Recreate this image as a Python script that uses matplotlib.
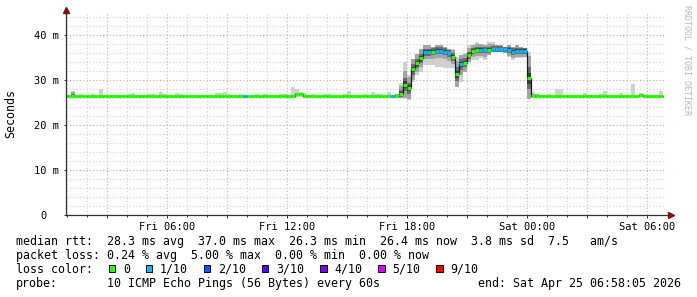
import numpy as np
import matplotlib
matplotlib.use("Agg")
import matplotlib.pyplot as plt
from matplotlib.patches import Rectangle

plt.rcParams['font.family'] = ['DejaVu Sans Mono']

# 12 minute steps, starting Fri 01:00 (hours counted from Fri 00:00)
start_hour = 1.0
step_hours = 0.2

# median rtt per step (ms)
median = [
    26.4, 26.4, 26.4, 26.4, 26.4, 26.4, 26.4, 26.4, 26.4, 26.4,
    26.4, 26.4, 26.4, 26.4, 26.4, 26.4, 26.4, 26.4, 26.4, 26.4,
    26.4, 26.4, 26.4, 26.4, 26.4, 26.4, 26.4, 26.4, 26.4, 26.4,
    26.4, 26.4, 26.4, 26.4, 26.4, 26.4, 26.4, 26.4, 26.4, 26.4,
    26.4, 26.4, 26.4, 26.4, 26.4, 26.4, 26.4, 26.4, 26.4, 26.4,
    26.4, 26.4, 26.4, 26.4, 26.4, 26.4, 26.4, 26.8, 26.8, 26.4,
    26.4, 26.4, 26.4, 26.4, 26.4, 26.4, 26.4, 26.4, 26.4, 26.4,
    26.4, 26.4, 26.4, 26.4, 26.4, 26.4, 26.4, 26.4, 26.4, 26.4,
    26.4, 26.4, 26.4, 27.0, 29.0, 28.2, 32.4, 33.7, 34.8, 36.2,
    36.2, 36.3, 36.5, 36.5, 36.3, 35.9, 35.1, 31.3, 33.5, 33.8,
    35.5, 36.5, 36.7, 36.7, 36.6, 36.7, 36.9, 36.9, 36.9, 36.8,
    36.7, 36.3, 36.5, 36.5, 36.5, 30.4, 26.4, 26.5, 26.5, 26.4,
    26.4, 26.4, 26.4, 26.4, 26.4, 26.4, 26.4, 26.4, 26.4, 26.4,
    26.4, 26.4, 26.4, 26.4, 26.4, 26.4, 26.4, 26.4, 26.4, 26.4,
    26.4, 26.4, 26.4, 26.6, 26.4, 26.4, 26.4, 26.4, 26.4,
]

# highest ping per step (ms)
smoke_top = [
    26.6, 27.6, 26.6, 26.9, 26.7, 26.6, 26.9, 26.6, 28.0, 26.6,
    26.7, 26.7, 26.6, 26.7, 26.7, 27.0, 27.2, 26.7, 26.7, 26.6,
    26.9, 26.9, 26.6, 27.3, 26.9, 26.6, 26.6, 27.1, 26.9, 26.7,
    26.7, 26.6, 26.6, 26.6, 26.6, 26.6, 26.6, 27.1, 27.1, 27.3,
    26.9, 26.6, 26.6, 27.0, 26.6, 26.6, 26.6, 27.0, 26.6, 26.8,
    26.6, 26.6, 26.6, 27.0, 27.0, 26.6, 28.5, 28.0, 27.4, 27.2,
    26.6, 26.9, 26.6, 26.6, 27.0, 27.0, 26.6, 26.6, 26.6, 27.0,
    27.6, 26.6, 26.6, 26.6, 26.9, 26.6, 27.3, 27.0, 27.0, 26.6,
    27.3, 26.6, 26.8, 29.3, 34.0, 31.1, 34.7, 35.7, 37.0, 37.8,
    37.8, 37.4, 37.8, 37.8, 37.4, 36.8, 36.8, 35.2, 35.6, 35.9,
    37.8, 37.8, 38.5, 38.1, 37.8, 38.5, 38.5, 37.8, 37.8, 37.4,
    37.8, 37.4, 37.8, 37.4, 37.1, 36.3, 27.3, 27.0, 26.6, 26.6,
    27.0, 26.6, 28.0, 28.0, 26.6, 26.6, 26.6, 26.6, 26.6, 27.2,
    26.6, 26.6, 26.6, 26.9, 27.6, 26.6, 26.6, 26.6, 27.2, 26.6,
    26.6, 29.1, 26.6, 27.2, 26.6, 26.6, 26.6, 26.6, 27.6,
]

# lowest ping per step (ms)
smoke_bottom = [
    26.2, 26.2, 26.2, 26.2, 26.2, 26.2, 26.2, 26.2, 26.2, 26.2,
    26.2, 26.2, 26.2, 26.2, 26.2, 26.2, 26.2, 26.2, 26.2, 26.2,
    26.2, 26.2, 26.2, 26.2, 26.2, 26.2, 26.2, 26.2, 26.2, 26.2,
    26.2, 26.2, 26.2, 26.2, 26.2, 26.2, 26.2, 26.2, 26.2, 26.2,
    26.2, 26.2, 26.2, 26.2, 26.2, 26.2, 26.2, 26.2, 26.2, 26.2,
    26.2, 26.2, 26.2, 26.2, 26.2, 26.2, 26.2, 26.3, 26.3, 26.2,
    26.2, 26.2, 26.2, 26.2, 26.2, 26.2, 26.2, 26.2, 26.2, 26.2,
    26.2, 26.2, 26.2, 26.2, 26.2, 26.2, 26.2, 26.2, 26.2, 26.2,
    26.2, 26.2, 26.2, 26.0, 26.0, 25.6, 29.6, 31.1, 31.8, 33.3,
    33.3, 33.3, 33.0, 33.0, 32.6, 32.6, 32.6, 28.5, 29.6, 31.8,
    34.1, 34.4, 34.4, 34.8, 34.4, 35.5, 36.2, 36.2, 36.2, 35.9,
    35.2, 34.4, 34.8, 34.8, 35.2, 25.8, 26.2, 26.2, 26.2, 26.2,
    26.2, 26.2, 26.2, 26.2, 26.2, 26.2, 26.2, 26.2, 26.2, 26.2,
    26.2, 26.2, 26.2, 26.2, 26.2, 26.2, 26.2, 26.2, 26.2, 26.2,
    26.2, 26.2, 26.2, 26.2, 26.2, 26.2, 26.2, 26.2, 26.2,
]

# half height of the dense part of the smoke (ms)
smoke_core = [
    0.15, 0.5, 0.15, 0.15, 0.15, 0.15, 0.15, 0.15, 0.15, 0.15,
    0.15, 0.15, 0.15, 0.15, 0.15, 0.15, 0.15, 0.15, 0.15, 0.15,
    0.15, 0.15, 0.15, 0.15, 0.15, 0.15, 0.15, 0.15, 0.15, 0.15,
    0.15, 0.15, 0.15, 0.15, 0.15, 0.15, 0.15, 0.15, 0.15, 0.15,
    0.15, 0.15, 0.15, 0.15, 0.15, 0.15, 0.15, 0.15, 0.15, 0.15,
    0.15, 0.15, 0.15, 0.15, 0.15, 0.15, 0.15, 0.15, 0.15, 0.15,
    0.15, 0.15, 0.15, 0.15, 0.15, 0.15, 0.15, 0.15, 0.15, 0.15,
    0.15, 0.15, 0.15, 0.15, 0.15, 0.15, 0.15, 0.15, 0.15, 0.15,
    0.15, 0.15, 0.2, 0.8, 1.5, 1.2, 1.2, 1.0, 1.0, 0.8,
    0.8, 0.8, 0.8, 0.8, 0.8, 0.8, 0.8, 1.5, 1.2, 1.0,
    0.8, 0.7, 0.7, 0.7, 0.7, 0.7, 0.6, 0.6, 0.6, 0.6,
    0.7, 0.7, 0.7, 0.7, 0.7, 2.5, 0.3, 0.15, 0.15, 0.15,
    0.15, 0.15, 0.15, 0.15, 0.15, 0.15, 0.15, 0.15, 0.15, 0.15,
    0.15, 0.15, 0.15, 0.15, 0.15, 0.15, 0.15, 0.15, 0.15, 0.15,
    0.15, 0.15, 0.15, 0.15, 0.15, 0.15, 0.15, 0.15, 0.15,
]

# loss class per step (index into loss_colors)
loss_class = [
    0, 0, 0, 0, 0, 0, 0, 0, 0, 0,
    0, 0, 0, 0, 0, 0, 0, 0, 0, 0,
    0, 0, 0, 0, 0, 0, 0, 0, 0, 0,
    0, 0, 0, 0, 0, 0, 0, 0, 0, 0,
    0, 0, 0, 0, 1, 0, 0, 0, 0, 0,
    0, 0, 0, 0, 0, 0, 0, 0, 0, 0,
    0, 0, 0, 0, 0, 0, 0, 0, 0, 0,
    0, 0, 0, 0, 0, 0, 0, 0, 0, 0,
    0, 1, 0, 0, 0, 0, 0, 0, 0, 1,
    1, 0, 1, 1, 1, 1, 0, 0, 1, 0,
    0, 0, 0, 1, 1, 0, 1, 1, 1, 1,
    1, 1, 1, 1, 1, 0, 0, 0, 0, 0,
    0, 0, 0, 0, 0, 0, 0, 0, 0, 0,
    0, 0, 0, 0, 0, 0, 0, 0, 0, 0,
    0, 0, 0, 0, 0, 0, 0, 0, 0,
]

loss_labels = ["0", "1/10", "2/10", "3/10", "4/10", "5/10", "9/10"]
loss_colors = ["#26ff00", "#00b8ff", "#0059ff", "#5e00ff", "#7e00ff", "#dd00ff", "#ff0000"]

x_ticks = [3, 6, 9, 12, 15, 18, 21, 24, 27, 30]
x_labels = ["", "Fri 06:00", "", "Fri 12:00", "", "Fri 18:00", "", "Sat 00:00", "", "Sat 06:00"]
y_ticks = [0, 10, 20, 30, 40]
y_labels = ["0  ", "10 m", "20 m", "30 m", "40 m"]

rtt_line = "median rtt:  28.3 ms avg  37.0 ms max  26.3 ms min  26.4 ms now  3.8 ms sd  7.5   am/s"
loss_line = "packet loss: 0.24 % avg  5.00 % max  0.00 % min  0.00 % now"
probe_text = "10 ICMP Echo Pings (56 Bytes) every 60s"
end_text = "end: Sat Apr 25 06:58:05 2026"

W, H = 697, 297
fig = plt.figure(figsize=(W / 100, H / 100), dpi=100)
ax = fig.add_axes([66.4 / W, 82 / H, 600 / W, 202.5 / H])
ax.set_xlim(0.968, 30.968)
ax.set_ylim(0, 45)

t = start_hour + step_hours * np.arange(len(median))
med = np.array(median)
top = np.array(smoke_top)
bot = np.array(smoke_bottom)
core = np.array(smoke_core)

# smoke, light outside to dark inside
layers = [
    (bot, top, "#d0d0d0"),
    (np.maximum(bot, med - 2 * core), np.minimum(top, med + 2 * core), "#a4a4a4"),
    (np.maximum(bot, med - core), np.minimum(top, med + core), "#6c6c6c"),
    (np.maximum(bot, med - 0.5 * core), np.minimum(top, med + 0.5 * core), "#3a3a3a"),
]
for lo, hi, c in layers:
    ax.bar(t, hi - lo, bottom=lo, width=step_hours, align="edge", color=c, linewidth=0, zorder=2)

ax.step(np.append(t, t[-1] + step_hours), np.append(med, med[-1]), where="post",
        color="#1a1a1a", lw=0.9, zorder=3)
ax.hlines(med, t, t + step_hours, colors=[loss_colors[i] for i in loss_class], lw=2.3, zorder=4)

# grid
ax.set_xticks(x_ticks)
ax.set_xticklabels(x_labels)
ax.set_xticks(np.arange(1, 31), minor=True)
ax.set_yticks(y_ticks)
ax.set_yticklabels(y_labels)
ax.set_yticks(np.arange(2, 45, 2), minor=True)
ax.set_axisbelow(True)
ax.grid(which="minor", color="#d0d0d0", ls=(0, (1, 2)), lw=0.8)
ax.grid(which="major", color="#e2a0a0", ls=(0, (1, 2)), lw=0.8)
ax.tick_params(which="both", direction="out", color="#303030", width=0.7, labelsize=7.5)
ax.tick_params(axis="x", which="major", length=2.5, pad=2.2)
ax.tick_params(axis="x", which="minor", length=1.5)
ax.tick_params(axis="y", which="major", length=1.5, pad=3.5)
ax.tick_params(axis="y", which="minor", length=0)
for s in ax.spines.values():
    s.set_visible(False)

# axes with arrows
ax.plot([0, 1.006], [0, 0], transform=ax.transAxes, color="#303030", lw=0.9, clip_on=False, zorder=5)
ax.plot([0, 0], [0, 1.0], transform=ax.transAxes, color="#303030", lw=0.9, clip_on=False, zorder=5)
ax.plot([1.008], [0], marker=">", ms=4.5, color="#7f1010", transform=ax.transAxes, clip_on=False, zorder=6)
ax.plot([0], [1.012], marker="^", ms=4.5, color="#7f1010", transform=ax.transAxes, clip_on=False, zorder=6)

fig.text(11 / W, 1 - 114 / H, "Seconds", rotation=90, ha="center", va="center", fontsize=8.4)
fig.text(687.5 / W, 1 - 60 / H, "RRDTOOL / TOBI OETIKER", rotation=270, ha="center", va="center",
         fontsize=6, color="#b8b8b8")

# legend lines
char_w = 7.02
fig.text(16 / W, 1 - 244.7 / H, rtt_line, fontsize=8.4, va="baseline")
fig.text(16 / W, 1 - 258.7 / H, loss_line, fontsize=8.4, va="baseline")
fig.text(16 / W, 1 - 272.7 / H, "loss color:", fontsize=8.4, va="baseline")
bx = 108.8
for lab, col in zip(loss_labels, loss_colors):
    fig.add_artist(Rectangle((bx / W, 1 - 272.3 / H), 6.5 / W, 7 / H, transform=fig.transFigure,
                             facecolor=col, edgecolor="black", lw=0.7))
    fig.text((bx + 14) / W, 1 - 272.7 / H, lab, fontsize=8.4, va="baseline")
    bx = bx + 14 + len(lab) * char_w + 16
fig.text(16 / W, 1 - 286.7 / H, "probe:", fontsize=8.4, va="baseline")
fig.text(107.3 / W, 1 - 286.7 / H, probe_text, fontsize=8.4, va="baseline")
fig.text(681 / W, 1 - 286.7 / H, end_text, fontsize=8.4, va="baseline", ha="right")

fig.savefig("out.png", dpi=100, facecolor="white")
